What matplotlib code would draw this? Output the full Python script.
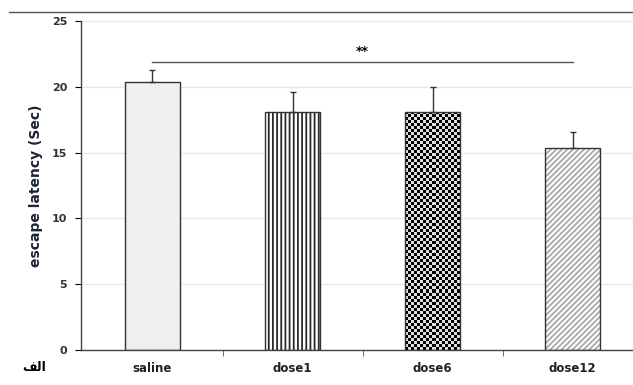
import matplotlib
matplotlib.use("Agg")
import matplotlib.pyplot as plt
from matplotlib.lines import Line2D
import numpy as np

groups = ["saline", "dose1", "dose6", "dose12"]
means = [20.4, 18.1, 18.1, 15.35]
errs = [0.9, 1.5, 1.9, 1.25]
sig_pair = (0, 3)
sig_y = 21.9
sig_text = "**"
corner_text = "\uFED2\uFEDF\uFE8D"  # "الف" in shaped (presentation) form
ylabel = "escape latency (Sec)"

plt.rcParams['font.family'] = ['DejaVu Sans']
plt.rcParams['hatch.linewidth'] = 1.3

fig = plt.figure(figsize=(6.33, 3.85), dpi=100)
ax = fig.add_axes([0.128, 0.091, 0.872, 0.854])

x = np.arange(len(groups))
w = 0.39

ax.set_xlim(-0.51, 3.43)
ax.set_ylim(0, 25)

# grid
ax.set_axisbelow(True)
ax.yaxis.grid(True, color='#e8e8e8', linewidth=1)

# bar fills (pattern), then outlines
faces = ['#efefef', 'white', '#111111', 'white']
hatch_cols = ['#efefef', '#2a2a2a', '#111111', '#a8a8a8']
hatches = [None, '||||', None, '//////']
fills = []
for i in range(len(groups)):
    b = ax.bar(x[i], means[i], w, color=faces[i], edgecolor=hatch_cols[i],
               hatch=hatches[i], linewidth=0, zorder=2)
    fills.append(b[0])
    ax.bar(x[i], means[i], w, fill=False, edgecolor='#333333', linewidth=1.0, zorder=3)

# checkerboard pattern for dose6
fig.canvas.draw()
p = fills[2]
x0, x1 = p.get_x(), p.get_x() + p.get_width()
(px0, py0), (px1, py1) = ax.transData.transform([(x0, 0), (x1, p.get_height())])
nx = max(int((px1 - px0) / 3), 1)
ny = max(int((py1 - py0) / 3), 1)
checker = (np.add.outer(np.arange(ny), np.arange(nx)) % 2).astype(float)
im = ax.imshow(checker, cmap='gray', vmin=0, vmax=1.15, interpolation='nearest',
               extent=(x0, x1, 0, p.get_height()), aspect='auto', zorder=2.5)
im.set_clip_path(p)

# upper error bars only
ax.errorbar(x, means, yerr=[np.zeros(len(errs)), errs], fmt='none',
            ecolor='#333333', elinewidth=1, capsize=2.5, capthick=1, zorder=4)

# significance bracket
ax.plot(list(sig_pair), [sig_y, sig_y], color='#555555', linewidth=1, zorder=4)
ax.text(np.mean(sig_pair), sig_y + 0.3, sig_text, ha='center', va='bottom',
        fontsize=9, fontweight='bold')

ax.set_xlim(-0.51, 3.43)
ax.set_ylim(0, 25)
ax.set_yticks([0, 5, 10, 15, 20, 25])
ax.set_xticks(x)
ax.set_xticklabels(groups)
ax.set_xticks([0.5, 1.5, 2.5], minor=True)
ax.tick_params(axis='x', which='major', length=0, pad=9)
ax.tick_params(axis='x', which='minor', length=4, direction='out', color='#555555')
ax.tick_params(axis='y', length=4, direction='out', pad=6)
for lab in ax.get_xticklabels():
    lab.set_fontweight('bold')
    lab.set_fontsize(8.5)
    lab.set_color('#222222')
for lab in ax.get_yticklabels():
    lab.set_fontweight('bold')
    lab.set_fontsize(8)
    lab.set_color('#333333')

ax.set_ylabel(ylabel, fontsize=10, fontweight='bold', labelpad=6, color='#1c2433')

for s in ['top', 'right']:
    ax.spines[s].set_visible(False)
for s in ['left', 'bottom']:
    ax.spines[s].set_color('#444444')
    ax.spines[s].set_linewidth(1)

fig.text(0.035, 0.045, corner_text, fontsize=9,
         fontweight='bold', ha='left', va='center')
fig.add_artist(Line2D([0.015, 1.0], [0.968, 0.968], color='#555555', linewidth=1))

fig.savefig("out.png", dpi=100)
